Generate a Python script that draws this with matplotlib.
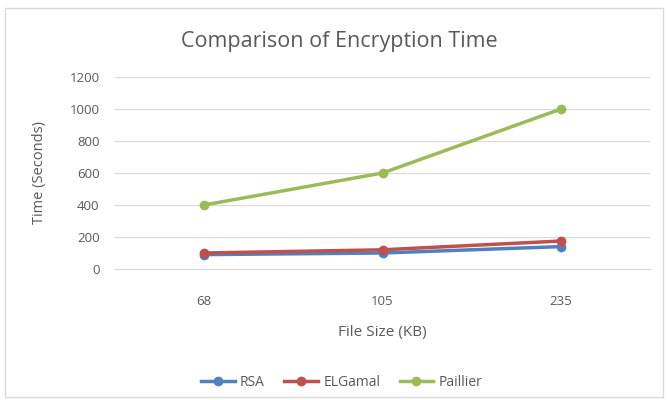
import matplotlib.pyplot as plt
from matplotlib.patches import Rectangle

file_sizes = ["68", "105", "235"]
rsa = [90, 100, 140]
elgamal = [100, 120, 175]
paillier = [400, 600, 1000]
y_ticks = [0, 200, 400, 600, 800, 1000, 1200]

plt.rcParams["font.family"] = ["Open Sans", "DejaVu Sans"]
text_gray = "#595959"

fig = plt.figure(figsize=(6.67, 4.0), dpi=100)
ax = fig.add_axes([0.172, 0.3275, 0.803, 0.48])

x = range(len(file_sizes))
ax.plot(x, rsa, "-o", c="#4F81BD", lw=2.5, ms=6, label="RSA", zorder=3)
ax.plot(x, elgamal, "-o", c="#C0504D", lw=2.5, ms=6, label="ELGamal", zorder=3)
ax.plot(x, paillier, "-o", c="#9BBB59", lw=2.5, ms=6, label="Paillier", zorder=3)

ax.set_xlim(-0.5, 2.5)
ax.set_ylim(0, 1200)
ax.set_yticks(y_ticks)
ax.set_xticks(list(x))
ax.set_xticklabels(file_sizes)
ax.grid(axis="y", color="#D9D9D9", lw=0.8)
ax.set_axisbelow(True)
for s in ["top", "right", "left"]:
    ax.spines[s].set_visible(False)
ax.spines["bottom"].set_color("#D9D9D9")
ax.tick_params(length=0, labelsize=9.5, colors=text_gray, pad=11)
ax.tick_params(axis="x", pad=19)

fig.text(0.508, 0.895, "Comparison of Encryption Time", fontsize=15.5,
         color=text_gray, ha="center", va="center")
ax.set_xlabel("File Size (KB)", fontsize=11, color=text_gray, labelpad=12)
ax.set_ylabel("Time (Seconds)", fontsize=10.5, color=text_gray, labelpad=16)

ax.legend(loc="center", bbox_to_anchor=(0.424, -0.589), ncol=3, frameon=False,
          fontsize=10, labelcolor=text_gray, handlelength=2.4, handletextpad=0.4,
          columnspacing=1.4)

fig.patches.append(Rectangle((0.0075, 0.0075), 0.986, 0.972, transform=fig.transFigure,
                             fill=False, ec="#D9D9D9", lw=1))
fig.savefig("out.png")
